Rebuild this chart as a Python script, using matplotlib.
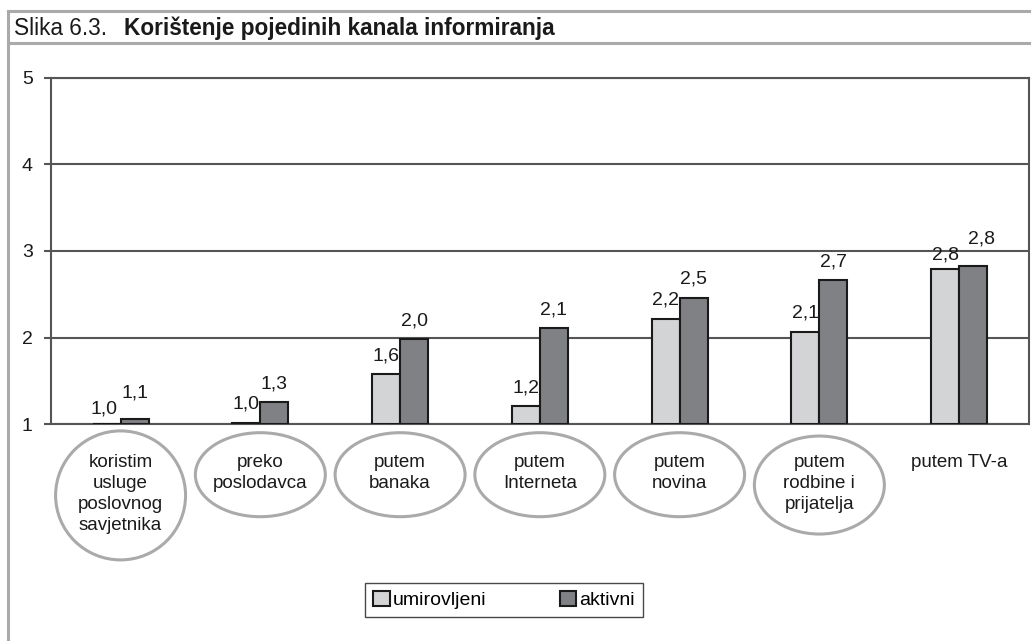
import numpy as np
import matplotlib.pyplot as plt
from matplotlib.patches import Ellipse, Patch
from matplotlib.lines import Line2D

plt.rcParams["font.family"] = ["Liberation Sans", "DejaVu Sans"]

categories = [
    "koristim\nusluge\nposlovnog\nsavjetnika",
    "preko\nposlodavca",
    "putem\nbanaka",
    "putem\nInterneta",
    "putem\nnovina",
    "putem\nrodbine i\nprijatelja",
    "putem TV-a",
]
umirovljeni = [1.00, 1.02, 1.58, 1.21, 2.22, 2.07, 2.79]
aktivni = [1.06, 1.26, 1.98, 2.11, 2.46, 2.66, 2.83]
circled = [True, True, True, True, True, True, False]
yticks = [1, 2, 3, 4, 5]

W, H = 1031, 641
fig = plt.figure(figsize=(W / 100, H / 100), dpi=100)

# axes placed in pixel terms
left, right, top, bottom = 50.7, 1029, 77.5, 424.3
ax = fig.add_axes([left / W, 1 - bottom / H, (right - left) / W, (bottom - top) / H])

grid_col = "#555555"
x = np.arange(len(categories))
bw = 0.2
b1 = ax.bar(x - bw / 2, np.array(umirovljeni) - 1, bw, bottom=1, color="#d3d4d6",
            edgecolor="#1a1a1a", linewidth=1.5, zorder=3)
b2 = ax.bar(x + bw / 2, np.array(aktivni) - 1, bw, bottom=1, color="#808185",
            edgecolor="#1a1a1a", linewidth=1.5, zorder=3)

# label nudges (points) where the labels would collide
nudge = {(0, 0): (-2, -2), (0, 1): (0, 6), (6, 0): (0, -3), (6, 1): (6, 6)}
for s, (bars, vals) in enumerate(((b1, umirovljeni), (b2, aktivni))):
    for i, (rect, v) in enumerate(zip(bars, vals)):
        dx, dy = nudge.get((i, s), (0, 0))
        ax.annotate(f"{v:.1f}".replace(".", ","),
                    (rect.get_x() + rect.get_width() / 2, v),
                    xytext=(dx, 7 + dy), textcoords="offset points",
                    ha="center", va="bottom", fontsize=14, color="#1a1a1a")

ax.set_xlim(-0.5, len(categories) - 0.5)
ax.set_ylim(1, 5)
ax.set_yticks(yticks)
ax.set_yticklabels([str(t) for t in yticks], fontsize=14, color="#1a1a1a")
ax.set_xticks([])
ax.tick_params(axis="y", length=5, width=1.5, color=grid_col, pad=8)
ax.yaxis.grid(True, color=grid_col, linewidth=1.5, zorder=0)
ax.set_axisbelow(True)
for sp in ax.spines.values():
    sp.set_color(grid_col)
    sp.set_linewidth(1.5)

# category labels, most of them inside grey ellipses
trans = ax.get_xaxis_transform()
axh = bottom - top
text_top = 454
line_h = 20.7
for i, (lab, circ) in enumerate(zip(categories, circled)):
    ax.text(i, (bottom - text_top) / axh, lab, transform=trans, ha="center", va="top",
            fontsize=13.5, linespacing=1.32, color="#1a1a1a", clip_on=False)
    if circ:
        n = lab.count("\n") + 1
        eh = {2: 84, 3: 98, 4: 129}[n]
        cy = text_top + n * line_h / 2
        ax.add_patch(Ellipse((i, (bottom - cy) / axh), 0.93, eh / axh, transform=trans,
                             fill=False, edgecolor="#aaaaaa", linewidth=2.2, clip_on=False))

# legend
handles = [Patch(facecolor="#d3d4d6", edgecolor="#1a1a1a", linewidth=1.5),
           Patch(facecolor="#808185", edgecolor="#1a1a1a", linewidth=1.5)]
leg = fig.legend(handles, ["umirovljeni", "aktivni"], loc="center",
                 bbox_to_anchor=(504 / W, 1 - 600 / H), ncol=2, fontsize=14,
                 frameon=True, fancybox=False, edgecolor="#1a1a1a",
                 handlelength=0.85, handleheight=0.85, handletextpad=0.15,
                 columnspacing=3.8, borderpad=0.4, borderaxespad=0)
leg.get_frame().set_linewidth(1.0)

# outer frame and title box
fc = "#aaaaaa"
fig.add_artist(Line2D([8 / W, 8 / W], [0, 1 - 11 / H], color=fc, linewidth=2.2))
fig.add_artist(Line2D([8 / W, 1], [1 - 11 / H, 1 - 11 / H], color=fc, linewidth=2.2))
fig.add_artist(Line2D([8 / W, 1], [1 - 43 / H, 1 - 43 / H], color=fc, linewidth=2.2))
fig.text(14 / W, 1 - 35 / H, "Slika 6.3.", fontsize=16.3, color="#1a1a1a", va="baseline")
fig.text(124 / W, 1 - 35 / H, "Korištenje pojedinih kanala informiranja", fontsize=16.3,
         fontweight="bold", color="#1a1a1a", va="baseline")

fig.savefig("out.png", dpi=100)
